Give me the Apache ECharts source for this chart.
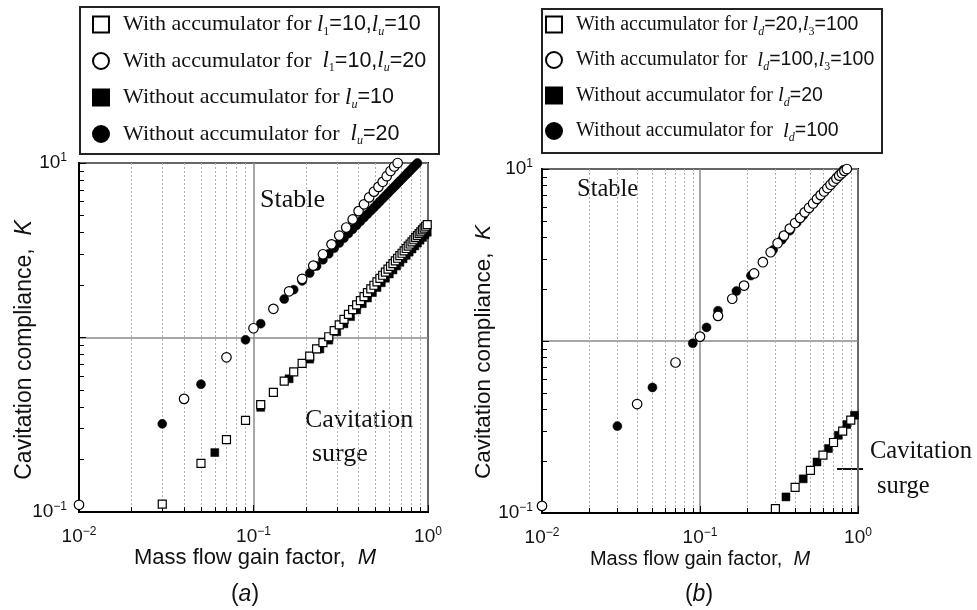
<!DOCTYPE html>
<html><head><meta charset="utf-8">
<script src="https://cdn.jsdelivr.net/npm/echarts@6/dist/echarts.min.js"></script>
<style>html,body{margin:0;padding:0;background:#fff}#c{width:977px;height:610px}</style>
</head><body><div id="c"></div>
<script>
// ---------- Panel (a) data: [M, K] ----------
const aWithAcc10 = [[0.03,0.111],[0.05,0.19],[0.07,0.26],[0.09,0.335],[0.11,0.412],[0.13,0.485],[0.15,0.562],[0.17,0.635],[0.19,0.71],[0.21,0.783],[0.23,0.86],[0.25,0.935],[0.27,1.01],[0.29,1.096],[0.31,1.18],[0.33,1.27],[0.35,1.357],[0.37,1.446],[0.39,1.536],[0.41,1.626],[0.43,1.717],[0.45,1.808],[0.47,1.9],[0.49,1.993],[0.51,2.085],[0.53,2.18],[0.55,2.273],[0.57,2.367],[0.59,2.462],[0.61,2.557],[0.63,2.654],[0.65,2.75],[0.67,2.846],[0.69,2.943],[0.71,3.04],[0.73,3.139],[0.75,3.237],[0.77,3.336],[0.79,3.434],[0.81,3.534],[0.83,3.633],[0.85,3.733],[0.87,3.833],[0.89,3.934],[0.91,4.035],[0.93,4.136],[0.95,4.238],[0.97,4.34],[0.99,4.44]];
const aWithAcc20 = [[0.01,0.11],[0.04,0.445],[0.07,0.77],[0.10,1.13],[0.13,1.46],[0.16,1.84],[0.19,2.17],[0.22,2.58],[0.25,3.0],[0.28,3.42],[0.31,3.84],[0.34,4.27],[0.37,4.75],[0.40,5.3],[0.43,5.8],[0.46,6.35],[0.49,6.85],[0.52,7.3],[0.55,7.8],[0.58,8.4],[0.61,9.0],[0.64,9.55],[0.67,10.0]];
const aWithout10 = [[0.06,0.219],[0.11,0.398],[0.16,0.58],[0.21,0.752],[0.24,0.86],[0.27,0.966],[0.30,1.079],[0.33,1.198],[0.36,1.318],[0.39,1.44],[0.42,1.562],[0.45,1.685],[0.48,1.809],[0.51,1.934],[0.54,2.06],[0.57,2.186],[0.60,2.312],[0.63,2.44],[0.66,2.568],[0.69,2.697],[0.72,2.826],[0.75,2.956],[0.78,3.086],[0.81,3.217],[0.84,3.349],[0.87,3.48],[0.90,3.613],[0.93,3.745],[0.96,3.878],[0.99,4.01]];
const aWithout20 = [[0.03,0.32],[0.05,0.54],[0.09,0.97],[0.11,1.2],[0.15,1.66],[0.17,1.88],[0.19,2.11],[0.21,2.34],[0.23,2.57],[0.25,2.79],[0.27,3.02],[0.29,3.25],[0.31,3.48],[0.33,3.71],[0.35,3.94],[0.37,4.17],[0.39,4.40],[0.41,4.63],[0.43,4.86],[0.45,5.09],[0.47,5.32],[0.49,5.55],[0.51,5.78],[0.53,6.02],[0.55,6.25],[0.57,6.48],[0.59,6.71],[0.61,6.95],[0.63,7.18],[0.65,7.41],[0.67,7.65],[0.69,7.88],[0.71,8.11],[0.73,8.35],[0.75,8.58],[0.77,8.82],[0.79,9.05],[0.81,9.29],[0.83,9.52],[0.85,9.76],[0.87,9.99]];

// ---------- Panel (b) data: [M, K] ----------
const bWithAcc20 = [[0.30,0.106],[0.40,0.141],[0.50,0.177],[0.60,0.217],[0.70,0.257],[0.80,0.299],[0.90,0.347]];
const bWithAcc100 = [[0.01,0.11],[0.04,0.43],[0.07,0.75],[0.10,1.06],[0.13,1.4],[0.16,1.76],[0.19,2.1],[0.22,2.47],[0.25,2.87],[0.28,3.28],[0.31,3.7],[0.34,4.1],[0.37,4.5],[0.40,4.85],[0.43,5.2],[0.46,5.6],[0.49,5.95],[0.52,6.3],[0.55,6.7],[0.58,7.05],[0.61,7.4],[0.64,7.75],[0.67,8.1],[0.70,8.45],[0.73,8.8],[0.76,9.15],[0.79,9.45],[0.82,9.75],[0.85,10.0]];
const bWithout20 = [[0.35,0.124],[0.45,0.158],[0.55,0.198],[0.65,0.237],[0.75,0.283],[0.85,0.327],[0.95,0.37]];
const bWithout100 = [[0.03,0.32],[0.05,0.537],[0.09,0.97],[0.11,1.2],[0.13,1.5],[0.17,1.95],[0.21,2.4],[0.25,2.9],[0.29,3.38],[0.33,3.88],[0.37,4.38],[0.41,4.88],[0.45,5.38],[0.49,5.9],[0.53,6.4],[0.57,6.9],[0.61,7.4],[0.65,7.9],[0.69,8.4],[0.73,8.9],[0.77,9.4],[0.81,9.9]];

// ---------- names / labels ----------
const namesA = ['With accumulator for l1=10,lu=10','With accumulator for l1=10,lu=20','Without accumulator for lu=10','Without accumulator for lu=20'];
const namesB = ['With accumulator for ld=20,l3=100','With accumulator for ld=100,l3=100','Without accumulator for ld=20','Without accumulator for ld=100'];
const legendRich = {};
legendRich[namesA[0]] = '{g| }{t|With accumulator for }{i|l}{n|1}{s|=10,}{i|l}{d|u}{s|=10}';
legendRich[namesA[1]] = '{g| }{t|With accumulator for  }{i|l}{n|1}{s|=10,}{i|l}{d|u}{s|=20}';
legendRich[namesA[2]] = '{g| }{t|Without accumulator for }{i|l}{d|u}{s|=10}';
legendRich[namesA[3]] = '{g| }{t|Without accumulator for  }{i|l}{d|u}{s|=20}';
legendRich[namesB[0]] = '{g| }{t|With accumulator for }{i|l}{d|d}{s|=20,}{i|l}{n|3}{s|=100}';
legendRich[namesB[1]] = '{g| }{t|With accumulator for  }{i|l}{d|d}{s|=100,}{i|l}{n|3}{s|=100}';
legendRich[namesB[2]] = '{g| }{t|Without accumulator for }{i|l}{d|d}{s|=20}';
legendRich[namesB[3]] = '{g| }{t|Without accumulator for  }{i|l}{d|d}{s|=100}';

const SERIF = '"Liberation Serif", "Times New Roman", serif';
const SANS = '"Liberation Sans", Arial, sans-serif';

function makeRich(ts, ss, gap) {
  return {
    g: {width: gap},
    t: {fontFamily: SERIF, fontSize: ts, lineHeight: 26, color: '#111'},
    i: {fontFamily: SERIF, fontStyle: 'italic', fontSize: ts + 1, lineHeight: 26, color: '#111'},
    d: {fontFamily: SERIF, fontStyle: 'italic', fontSize: 12, lineHeight: 12, verticalAlign: 'bottom', color: '#111'},
    n: {fontFamily: SERIF, fontSize: 12, lineHeight: 12, verticalAlign: 'bottom', color: '#111'},
    s: {fontFamily: SANS, fontSize: ss, lineHeight: 26, color: '#111'}
  };
}

function powLabel(v, hideOne) {
  const e = Math.round(Math.log10(v));
  if (hideOne && e === 0) return '';
  return '{b|10}{p|' + (e < 0 ? '\u2212' + (-e) : e) + '}';
}
const tickRich = {
  b: {fontFamily: SANS, fontSize: 19, lineHeight: 22, color: '#111'},
  p: {fontFamily: SANS, fontSize: 12, lineHeight: 12, verticalAlign: 'top', color: '#111'}
};

function xAxis(gi) {
  return {
    type: 'log', logBase: 10, gridIndex: gi, min: 0.01, max: 1,
    axisLine: {show: true, onZero: false, lineStyle: {color: '#000', width: 2}},
    axisTick: {show: true, inside: true, length: 7, lineStyle: {color: '#000', width: 1}},
    minorTick: {show: true, splitNumber: 9, length: 5, lineStyle: {color: '#000', width: 1}},
    splitLine: {show: true, lineStyle: {color: '#8a8a8a', width: 1.5}},
    minorSplitLine: {show: true, lineStyle: {color: '#b0b0b0', width: 1, type: [2, 2]}},
    axisLabel: {formatter: v => powLabel(v, false), rich: tickRich, margin: 14}
  };
}
function yAxis(gi, margin) {
  return {
    type: 'log', logBase: 10, gridIndex: gi, min: 0.1, max: 10,
    axisLine: {show: true, onZero: false, lineStyle: {color: '#000', width: 2}},
    axisTick: {show: true, inside: true, length: 7, lineStyle: {color: '#000', width: 1}},
    minorTick: {show: true, splitNumber: 9, length: 5, lineStyle: {color: '#000', width: 1}},
    splitLine: {show: true, lineStyle: {color: '#8a8a8a', width: 1.5}},
    minorSplitLine: {show: false},
    axisLabel: {formatter: v => powLabel(v, true), rich: tickRich, margin: margin}
  };
}

function sc(name, data, gi, symbol, size, filled) {
  return {
    type: 'scatter', name: name, data: data, xAxisIndex: gi, yAxisIndex: gi,
    symbol: symbol, symbolSize: size, clip: false,
    itemStyle: filled ? {color: '#000', borderColor: '#000', borderWidth: 0.5, opacity: 1}
                      : {color: '#fff', borderColor: '#000', borderWidth: 1.2, opacity: 1},
    emphasis: {disabled: true}
  };
}

const chart = echarts.init(document.getElementById('c'), null, {renderer: 'canvas'});
const legendBase = {
  orient: 'vertical', itemGap: 12, itemWidth: 16, itemHeight: 16, padding: 0,
  selectedMode: false, formatter: n => legendRich[n],
  itemStyle: {borderWidth: 2, opacity: 1}
};
chart.setOption({
  animation: false,
  backgroundColor: '#fff',
  grid: [
    {left: 79, top: 163, width: 349, height: 349, show: true, borderColor: '#000', borderWidth: 2, backgroundColor: '#fff'},
    {left: 542, top: 169, width: 316, height: 344, show: true, borderColor: '#000', borderWidth: 2, backgroundColor: '#fff'}
  ],
  xAxis: [xAxis(0), xAxis(1)],
  yAxis: [yAxis(0, 12), yAxis(1, 9)],
  legend: [
    Object.assign({}, legendBase, {data: namesA, left: 92, top: 13, textStyle: {rich: makeRich(22, 21.5, 9)}}),
    Object.assign({}, legendBase, {data: namesB, left: 545, top: 14, textStyle: {rich: makeRich(20, 19.5, 9)}})
  ],
  series: [
    sc(namesA[2], aWithout10, 0, 'rect', 8, true),
    sc(namesA[0], aWithAcc10, 0, 'rect', 8, false),
    sc(namesA[3], aWithout20, 0, 'circle', 9, true),
    sc(namesA[1], aWithAcc20, 0, 'circle', 9.5, false),
    sc(namesB[2], bWithout20, 1, 'rect', 8, true),
    sc(namesB[0], bWithAcc20, 1, 'rect', 8, false),
    sc(namesB[3], bWithout100, 1, 'circle', 9, true),
    sc(namesB[1], bWithAcc100, 1, 'circle', 9.5, false)
  ],
  graphic: [
    {type: 'rect', shape: {x: 80, y: 7, width: 359, height: 147}, style: {fill: 'none', stroke: '#222', lineWidth: 2}},
    {type: 'rect', shape: {x: 542, y: 9, width: 340, height: 144}, style: {fill: 'none', stroke: '#222', lineWidth: 2}},
    {type: 'text', x: 260, y: 200, style: {text: 'Stable', fontFamily: SERIF, fontSize: 26, fill: '#111', align: 'left', verticalAlign: 'middle'}},
    {type: 'text', x: 305, y: 420, style: {text: 'Cavitation', fontFamily: SERIF, fontSize: 26, fill: '#111', align: 'left', verticalAlign: 'middle'}},
    {type: 'text', x: 312, y: 454, style: {text: 'surge', fontFamily: SERIF, fontSize: 26, fill: '#111', align: 'left', verticalAlign: 'middle'}},
    {type: 'text', x: 577, y: 190, style: {text: 'Stable', fontFamily: SERIF, fontSize: 24.5, fill: '#111', align: 'left', verticalAlign: 'middle'}},
    {type: 'text', x: 870, y: 452, style: {text: 'Cavitation', fontFamily: SERIF, fontSize: 24.5, fill: '#111', align: 'left', verticalAlign: 'middle'}},
    {type: 'text', x: 877, y: 487, style: {text: 'surge', fontFamily: SERIF, fontSize: 24.5, fill: '#111', align: 'left', verticalAlign: 'middle'}},
    {type: 'line', shape: {x1: 837, y1: 469, x2: 863, y2: 469}, style: {stroke: '#111', lineWidth: 2}},
    {type: 'text', x: 25, y: 350, rotation: Math.PI / 2, style: {text: 'Cavitation compliance,  {k|K}', fontFamily: SANS, fontSize: 23, fill: '#111', align: 'center', verticalAlign: 'middle', rich: {k: {fontFamily: SANS, fontStyle: 'italic', fontSize: 23, fill: '#111'}}}},
    {type: 'text', x: 484, y: 352, rotation: Math.PI / 2, style: {text: 'Cavitation compliance,  {k|K}', fontFamily: SANS, fontSize: 22.5, fill: '#111', align: 'center', verticalAlign: 'middle', rich: {k: {fontFamily: SANS, fontStyle: 'italic', fontSize: 22.5, fill: '#111'}}}},
    {type: 'text', x: 255, y: 558, style: {text: 'Mass flow gain factor,  {k|M}', fontFamily: SANS, fontSize: 22, fill: '#111', align: 'center', verticalAlign: 'middle', rich: {k: {fontFamily: SANS, fontStyle: 'italic', fontSize: 22, fill: '#111'}}}},
    {type: 'text', x: 700, y: 559, style: {text: 'Mass flow gain factor,  {k|M}', fontFamily: SANS, fontSize: 20, fill: '#111', align: 'center', verticalAlign: 'middle', rich: {k: {fontFamily: SANS, fontStyle: 'italic', fontSize: 20, fill: '#111'}}}},
    {type: 'text', x: 245, y: 595, style: {text: '({k|a})', fontFamily: SANS, fontSize: 23, fill: '#111', align: 'center', verticalAlign: 'middle', rich: {k: {fontFamily: SANS, fontStyle: 'italic', fontSize: 23, fill: '#111'}}}},
    {type: 'text', x: 699, y: 595, style: {text: '({k|b})', fontFamily: SANS, fontSize: 23, fill: '#111', align: 'center', verticalAlign: 'middle', rich: {k: {fontFamily: SANS, fontStyle: 'italic', fontSize: 23, fill: '#111'}}}}
  ]
});
</script></body></html>
